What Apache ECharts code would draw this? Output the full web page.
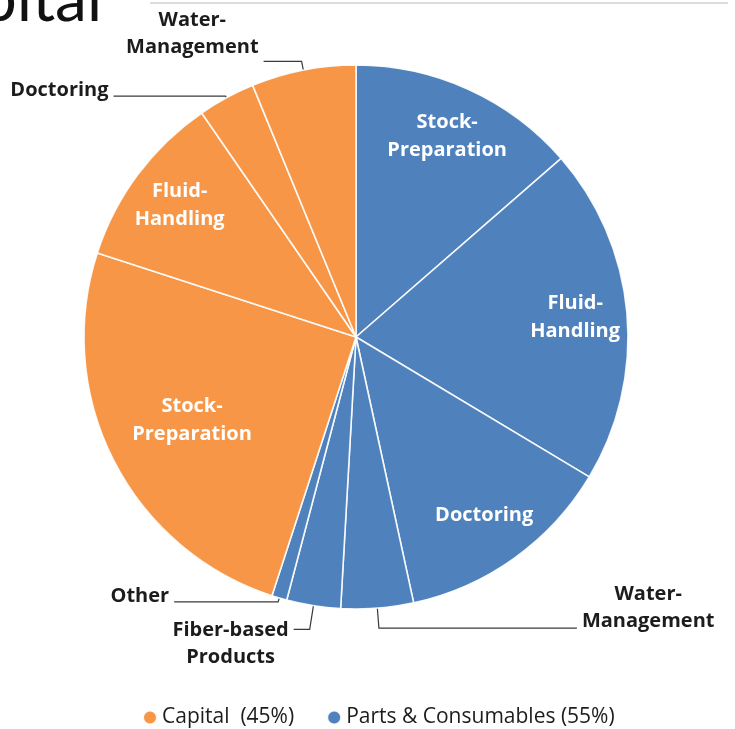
<!DOCTYPE html>
<html>
<head>
<meta charset="utf-8">
<script src="https://cdn.jsdelivr.net/npm/echarts@6/dist/echarts.min.js"></script>
<style>
  html, body { margin: 0; padding: 0; background: #ffffff; }
  #chart { width: 735px; height: 729px; }
</style>
</head>
<body>
<div id="chart"></div>
<script>
// Market split by segment, in percent of the total
const groupNames = ['Capital  (45%)', 'Parts & Consumables (55%)'];

const partsNames = ['Stock-Preparation', 'Fluid-Handling', 'Doctoring', 'Water-Management', 'Fiber-based Products', 'Other'];
const partsValues = [13.6, 20.0, 13.0, 4.3, 3.2, 0.9];

const capitalNames = ['Stock-Preparation', 'Fluid-Handling', 'Doctoring', 'Water-Management'];
const capitalValues = [25.0, 10.4, 3.4, 6.2];

// ---- styling ----
const CENTER = [356, 337];
const R = 272;
const ORANGE = '#F79646';
const BLUE = '#4F81BD';
const FONT = '"Open Sans", Lato, sans-serif';
const TITLE_FONT = 'Lato, "Open Sans", sans-serif';
const DARK = '#1c1c1c';
const BLANK = 'rgba(0,0,0,0)';

const sum = arr => arr.reduce((a, b) => a + b, 0);

function wrapName(n) {
  return n.indexOf(' ') >= 0 ? n.replace(' ', '\n') : n.replace('-', '-\n');
}
function richLines(n) {
  return wrapName(n).split('\n').map(s => '{c|' + s + '}').join('\n');
}

// labels drawn outside the pie, with leader lines
const outerLabels = {
  'parts|Water-Management':     { length: 20, length2: 198, padding: [0, 0, 40, 0] },
  'parts|Fiber-based Products': { length: 24, length2: 16,  padding: [28, 0, 0, 0] },
  'parts|Other':                { length: 4,  length2: 104, padding: [0, 0, 12, 0] },
  'capital|Doctoring':          { length: 2,  length2: 112, padding: [0, 0, 12, 0] },
  'capital|Water-Management':   { length: 9,  length2: 38,  padding: [0, 0, 56, 0] }
};

// labels written inside the slices, on two ring radii
const innerRingOuter = {
  'parts|Stock-Preparation': true,
  'parts|Fluid-Handling': true,
  'parts|Doctoring': true,
  'capital|Fluid-Handling': true
};
const innerRingMid = {
  'capital|Stock-Preparation': true
};

const outerRich = {
  c: { align: 'center', fontSize: 20, fontWeight: 'bold', fontFamily: FONT, color: DARK, lineHeight: 27 }
};
const innerRich = {
  c: { align: 'center', fontSize: 20, fontWeight: 'bold', fontFamily: FONT, color: '#ffffff', lineHeight: 28 }
};

function sliceItems(group, names, values) {
  return names.map((n, i) => {
    const key = group + '|' + n;
    const o = outerLabels[key];
    const item = { name: n, value: values[i] };
    if (o) {
      item.label = { show: true, position: 'outside', padding: o.padding };
      item.labelLine = { show: true, length: o.length, length2: o.length2 };
    } else {
      item.label = { show: false };
      item.labelLine = { show: false };
    }
    return item;
  });
}

function blankItem(value) {
  return {
    name: '',
    value: value,
    itemStyle: { color: BLANK, borderWidth: 0 },
    label: { show: false },
    labelLine: { show: false }
  };
}

function groupSeries(name, color, data) {
  return {
    type: 'pie',
    name: name,
    center: CENTER,
    radius: [0, R],
    startAngle: 90,
    clockwise: true,
    avoidLabelOverlap: false,
    silent: true,
    animation: false,
    emphasis: { disabled: true },
    itemStyle: { color: color, borderColor: 'rgba(255,255,255,0.9)', borderWidth: 1.6 },
    label: {
      formatter: p => richLines(p.name),
      rich: outerRich,
      distanceToLabelLine: 5
    },
    labelLine: { lineStyle: { color: '#3a3a3a', width: 1.2 }, smooth: false },
    data: data
  };
}

// transparent ring whose inside-label radius sits at the wanted distance
function labelRing(r0, r1, showMap) {
  const items = [];
  partsNames.forEach((n, i) => items.push({ name: n, value: partsValues[i], key: 'parts|' + n }));
  capitalNames.forEach((n, i) => items.push({ name: n, value: capitalValues[i], key: 'capital|' + n }));
  return {
    type: 'pie',
    center: CENTER,
    radius: [r0, r1],
    startAngle: 90,
    clockwise: true,
    silent: true,
    animation: false,
    emphasis: { disabled: true },
    itemStyle: { color: BLANK, borderWidth: 0 },
    label: { position: 'inside', formatter: p => richLines(p.name), rich: innerRich },
    labelLine: { show: false },
    data: items.map(it => ({
      name: it.name,
      value: it.value,
      label: { show: !!showMap[it.key] }
    }))
  };
}

const partsData = sliceItems('parts', partsNames, partsValues).concat([blankItem(sum(capitalValues))]);
const capitalData = [blankItem(sum(partsValues))].concat(sliceItems('capital', capitalNames, capitalValues));

const chart = echarts.init(document.getElementById('chart'), null, { renderer: 'canvas' });

chart.setOption({
  backgroundColor: '#ffffff',
  animation: false,
  legend: {
    data: groupNames,
    left: 137,
    top: 702,
    icon: 'circle',
    itemWidth: 14,
    itemHeight: 14,
    itemGap: 32,
    selectedMode: false,
    textStyle: { fontSize: 21, color: DARK, fontFamily: FONT }
  },
  graphic: [
    {
      type: 'line',
      shape: { x1: 150, y1: 3, x2: 728, y2: 3 },
      style: { stroke: '#dcdcdc', lineWidth: 2 },
      silent: true
    },
    {
      type: 'text',
      x: 102,
      y: 0,
      style: {
        text: 'Capital',
        font: 'normal 64px ' + TITLE_FONT,
        fill: '#111111',
        textAlign: 'right',
        textVerticalAlign: 'middle'
      },
      silent: true
    }
  ],
  series: [
    groupSeries(groupNames[1], BLUE, partsData),
    groupSeries(groupNames[0], ORANGE, capitalData),
    labelRing(162, 272, innerRingOuter),
    labelRing(90, 272, innerRingMid)
  ]
});
</script>
</body>
</html>
